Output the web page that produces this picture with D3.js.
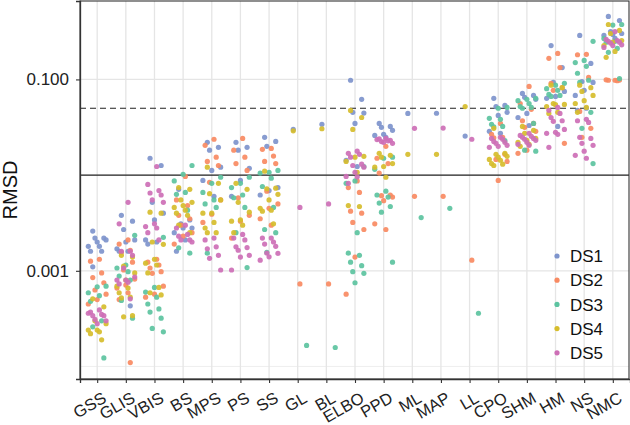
<!DOCTYPE html>
<html lang="en">
<head>
<meta charset="utf-8">
<script src="https://d3js.org/d3.v7.min.js"></script>
<style>
  body { margin: 0; background: #fff; }
  text { font-family: "Liberation Sans", Arial, sans-serif; }
</style>
</head>
<body>
<div id="chart"></div>
<script>
// categories on the x axis
const categories = ["GSS","GLIS","VBIS","BS","MPS","PS","SS","GL","BL","ELBO","PPD","ML","MAP","LL","CPO","SHM","HM","NS","NMC"];
const seriesNames = ["DS1","DS2","DS3","DS4","DS5"];
const seriesColors = ["#7e94cc","#f88a62","#5cc3a0","#d6bd2c","#cd6fb6"];
const yTicks = [0.001, 0.1];
const yMinor = [0.0001, 0.01];
const dashedRef = 0.05;
const solidRef = 0.01;

// RMSD values, one list per category (same order as categories)
const DS1 = [
  [0.0026,0.0022,0.0022,0.0021,0.0020,0.0018,0.0018,0.0016,0.0016,0.0011],
  [0.0038,0.0033,0.0027,0.0021,0.0020,0.0017,0.0016,0.0016,0.00043],
  [0.015,0.0126,0.0052,0.0040,0.0034,0.0021,0.0020,0.0019],
  [0.0071,0.0034,0.0031,0.0028,0.0028,0.0025,0.0021,0.0016],
  [0.022,0.0195,0.0182,0.0121,0.0112,0.0088,0.0060],
  [0.022,0.0195,0.0182,0.0118,0.0088,0.0060],
  [0.0248,0.0225,0.020,0.0074,0.0069,0.0062],
  [0.030],
  [0.034],
  [0.098,0.062,0.0453,0.0445,0.0347,0.0143,0.0123],
  [0.0347,0.0323,0.0316,0.0294,0.0267,0.026,0.0248],
  [0.0441],
  [0.0443],
  [0.0256],
  [0.0634,0.0535,0.052,0.0453,0.042,0.0287,0.0273],
  [0.0714,0.068,0.065,0.062,0.0441,0.040,0.033],
  [0.226,0.133,0.093,0.075,0.0665,0.0634,0.0323],
  [0.288,0.147,0.095,0.093,0.077,0.068,0.050,0.0475],
  [0.455,0.413,0.316,0.302,0.295,0.288,0.268]
];
const DS2 = [
  [0.00132,0.00126,0.00095,0.00085,0.00075,0.00063,0.00057,0.00050,0.00045],
  [0.0021,0.0019,0.00164,0.00156,0.00123,0.00102,0.00082,0.00071,0.00066,0.00059,0.00050,0.00011],
  [0.00132,0.00123,0.00115,0.00107,0.00098,0.00094,0.00069,0.00057,0.00053],
  [0.0097,0.0055,0.0048,0.0038,0.0035,0.0030,0.0025,0.0023,0.0019],
  [0.0237,0.0205,0.0154,0.0139,0.0126,0.0084,0.0055,0.0039,0.0032],
  [0.0242,0.0182,0.0154,0.0132,0.0112,0.0058,0.0038,0.0033,0.0022],
  [0.019,0.0186,0.0158,0.0139,0.0132,0.0068,0.0050,0.0045,0.0035,0.0030],
  [0.00073],
  [0.00073],
  [0.0087,0.0074,0.0066,0.0042,0.0040,0.0032,0.0027,0.00139,0.00057],
  [0.020,0.015,0.0132,0.0105,0.0062,0.0061,0.0059,0.0054,0.0031,0.0027],
  [0.0060],
  [0.0060],
  [0.00129],
  [0.0347,0.0267,0.0248,0.0245,0.0165,0.0146,0.0139,0.0088],
  [0.0845,0.056,0.0487,0.037,0.0347,0.0316,0.0287,0.0182,0.0169],
  [0.187,0.166,0.133,0.091,0.082,0.077,0.0215],
  [0.183,0.181,0.105,0.0463,0.0308,0.0248],
  [0.098,0.099,0.097,0.098,0.0985]
];
const DS3 = [
  [0.00069,0.00068,0.00059,0.00055,0.00048,0.00030,0.00026,0.000123],
  [0.00235,0.00115,0.00107,0.00098,0.00088,0.00080,0.00049,0.00032],
  [0.00224,0.00067,0.0006,0.00053,0.00045,0.0004,0.00037,0.00032,0.00025,0.00023],
  [0.0126,0.0102,0.0087,0.0066,0.0063,0.0043,0.00174,0.00153],
  [0.0095,0.0082,0.0066,0.0055,0.0050,0.0046,0.00153],
  [0.0095,0.0082,0.0074,0.0062,0.0058,0.0046,0.0025,0.00108],
  [0.0112,0.0107,0.0105,0.0093,0.0076,0.0046,0.0027,0.0025,0.00156],
  [0.000166],
  [0.000158],
  [0.0123,0.0087,0.0082,0.0025,0.00153,0.00145,0.00123,0.00113,0.00098,0.00094,0.00075],
  [0.0154,0.015,0.0115,0.0068,0.0062,0.0059,0.0051,0.0047,0.0041,0.00123],
  [0.0036],
  [0.0045],
  [0.00036],
  [0.051,0.050,0.0392,0.0383,0.034,0.0323,0.032,0.023],
  [0.0634,0.062,0.060,0.056,0.052,0.051,0.050,0.0347,0.0182,0.0178],
  [0.091,0.087,0.080,0.077,0.0697,0.068,0.0665],
  [0.25,0.158,0.150,0.137,0.116,0.098,0.093,0.0453,0.0308,0.0132],
  [0.375,0.37,0.268,0.25,0.245,0.211,0.192,0.102]
];
const DS4 = [
  [0.00051,0.00042,0.00030,0.00028,0.00024,0.00024,0.00023,0.00022,0.00019],
  [0.00145,0.00139,0.00112,0.00095,0.00080,0.00069,0.00066,0.00059,0.00053,0.00052,0.00034,0.00033],
  [0.0041,0.0040,0.0020,0.00189,0.00132,0.0012,0.00115,0.00095,0.00067,0.00059,0.00056],
  [0.0074,0.0071,0.0055,0.0052,0.0048,0.0046,0.0043,0.0040,0.0038,0.0030,0.0025],
  [0.0121,0.0082,0.0064,0.0055,0.0040,0.0040,0.0032,0.0028,0.0025,0.0025],
  [0.0082,0.0071,0.0052,0.0041,0.0034,0.0033,0.0030,0.0025],
  [0.0110,0.0073,0.0072,0.0063,0.0055,0.0045,0.0043,0.0042,0.0031],
  [0.029],
  [0.0305],
  [0.0474,0.040,0.030,0.0157,0.0154,0.0139,0.0107,0.0048,0.0047],
  [0.0169,0.0161,0.0154,0.0132,0.0123,0.0121,0.0095],
  [0.0165],
  [0.0165],
  [0.052],
  [0.0308,0.0169,0.0165,0.0157,0.0154,0.0146,0.0143,0.0132,0.013,0.0126],
  [0.0323,0.0294,0.0273,0.0242,0.0231,0.022,0.021,0.020],
  [0.087,0.082,0.056,0.0548,0.0545,0.052,0.0453,0.0441],
  [0.087,0.082,0.075,0.068,0.060,0.056,0.051,0.0453],
  [0.375,0.325,0.302,0.255,0.245,0.226,0.196,0.17]
];
const DS5 = [
  [0.00039,0.00037,0.00035,0.00034,0.00034,0.00031,0.00030,0.00028,0.00036],
  [0.0052,0.0031,0.0016,0.0016,0.00145,0.00107,0.00086,0.0008,0.0008,0.00076,0.00073,0.00051],
  [0.0123,0.0080,0.0069,0.0065,0.0062,0.0055,0.0052,0.0031,0.0029,0.0028,0.0025,0.0021],
  [0.0030,0.0028,0.0024,0.0023,0.0021,0.0021,0.0020],
  [0.0022,0.0021,0.00178,0.0017,0.00145,0.00135,0.00102],
  [0.0024,0.0022,0.0021,0.00178,0.00175,0.00164,0.00145,0.00139,0.00102],
  [0.0022,0.0022,0.0020,0.0019,0.0018,0.00153,0.00152,0.0014,0.00129],
  [0.0046],
  [0.005],
  [0.0178,0.0169,0.0165,0.0154,0.013,0.0126,0.0121,0.0107,0.0097,0.0096,0.0082],
  [0.0242,0.0235,0.0228,0.0240,0.0231,0.0224,0.0215,0.022],
  [0.0308],
  [0.031],
  [0.0237],
  [0.0248,0.0242,0.0237,0.0225,0.022,0.0215,0.0205,0.020,0.0195],
  [0.0273,0.026,0.0254,0.0248,0.0242,0.0237,0.0231,0.022,0.021,0.0205],
  [0.051,0.0475,0.0441,0.040,0.037,0.0365,0.030,0.028,0.0273,0.0267,0.0195],
  [0.0383,0.037,0.0355,0.0248,0.0242,0.0215,0.0205,0.0178,0.0161,0.015],
  [0.316,0.262,0.255,0.25,0.245,0.24,0.23,0.226,0.216]
];
const allSeries = [DS1, DS2, DS3, DS4, DS5];

const W = 630, H = 425;
const margin = {top: 1, right: 1, bottom: 46, left: 80};
const innerW = W - margin.left - margin.right;
const innerH = H - margin.top - margin.bottom;

const svg = d3.select("#chart").append("svg")
  .attr("width", W).attr("height", H);
const g = svg.append("g").attr("transform", `translate(${margin.left},${margin.top})`);

const x = d3.scalePoint().domain(categories).range([0, innerW + 1]).padding(0.6);
const step = x.step();
const y = d3.scaleLog().domain([7.4e-5, 0.66]).range([innerH, 0]);

// grid
g.append("g").selectAll("line").data(yMinor).join("line")
  .attr("x1", 0).attr("x2", innerW).attr("y1", d => y(d)).attr("y2", d => y(d))
  .attr("stroke", "#ebebeb").attr("stroke-width", 0.8);
g.append("g").selectAll("line").data(yTicks).join("line")
  .attr("x1", 0).attr("x2", innerW).attr("y1", d => y(d)).attr("y2", d => y(d))
  .attr("stroke", "#e5e5e5").attr("stroke-width", 1.3);
g.append("g").selectAll("line").data(categories).join("line")
  .attr("x1", d => x(d)).attr("x2", d => x(d)).attr("y1", 0).attr("y2", innerH)
  .attr("stroke", "#e5e5e5").attr("stroke-width", 1.3);

// reference lines
g.append("line").attr("x1", 0).attr("x2", innerW)
  .attr("y1", y(dashedRef)).attr("y2", y(dashedRef))
  .attr("stroke", "#222").attr("stroke-width", 1.1).attr("stroke-dasharray", "6,4");
g.append("line").attr("x1", 0).attr("x2", innerW)
  .attr("y1", y(solidRef)).attr("y2", y(solidRef))
  .attr("stroke", "#222").attr("stroke-width", 1.1);

// fixed jitter pattern so the points spread sideways like geom_jitter
const jitter = (i, s) => (((i * 5 + s * 3 + 2) % 9) / 8 - 0.5) * 0.62 * step;

const points = [];
allSeries.forEach((ser, s) => {
  ser.forEach((vals, c) => {
    vals.forEach((v, i) => points.push({cat: categories[c], value: v, s: s, i: i}));
  });
});

g.append("g").selectAll("circle").data(points).join("circle")
  .attr("cx", d => x(d.cat) + jitter(d.i, d.s))
  .attr("cy", d => y(d.value))
  .attr("r", 2.6)
  .attr("fill", d => seriesColors[d.s])
  .attr("fill-opacity", 0.92);

// panel border
g.append("rect").attr("x", 0).attr("y", 0).attr("width", innerW).attr("height", innerH)
  .attr("fill", "none").attr("stroke", "#333").attr("stroke-width", 1.1);

// axes
const yAxis = g.append("g")
  .call(d3.axisLeft(y).tickValues(yTicks).tickFormat(d3.format(".3f")).tickSize(4).tickPadding(7));
yAxis.select(".domain").attr("stroke", "#333").attr("stroke-width", 1.3);
yAxis.selectAll(".tick line").attr("stroke", "#333").attr("stroke-width", 1.1);
yAxis.selectAll("text").attr("font-size", 17).attr("fill", "#222")
  .style("font-family", "'Liberation Sans', Arial, sans-serif");

const xAxis = g.append("g").attr("transform", `translate(0,${innerH})`)
  .call(d3.axisBottom(x).tickSize(4));
xAxis.select(".domain").attr("stroke", "#333").attr("stroke-width", 1.3);
xAxis.selectAll(".tick line").attr("stroke", "#333").attr("stroke-width", 1.1);
xAxis.selectAll("text")
  .attr("x", 0).attr("y", 0).attr("dy", "0.72em")
  .attr("transform", "translate(4,12) rotate(-30)")
  .style("text-anchor", "end")
  .attr("font-size", 16.5).attr("fill", "#222")
  .style("font-family", "'Liberation Sans', Arial, sans-serif");

// y title
svg.append("text")
  .attr("transform", `translate(17,${margin.top + innerH / 2}) rotate(-90)`)
  .attr("text-anchor", "middle")
  .attr("font-size", 20).attr("fill", "#111")
  .text("RMSD");

// legend inside the panel
const legend = svg.append("g").attr("transform", "translate(557,256)");
const row = legend.selectAll("g").data(seriesNames).join("g")
  .attr("transform", (d, i) => `translate(0,${i * 24.2})`);
row.append("circle").attr("r", 2.6).attr("fill", (d, i) => seriesColors[i]);
row.append("text").attr("x", 13).attr("dy", "0.36em")
  .attr("font-size", 17).attr("fill", "#111").text(d => d);
</script>
</body>
</html>
